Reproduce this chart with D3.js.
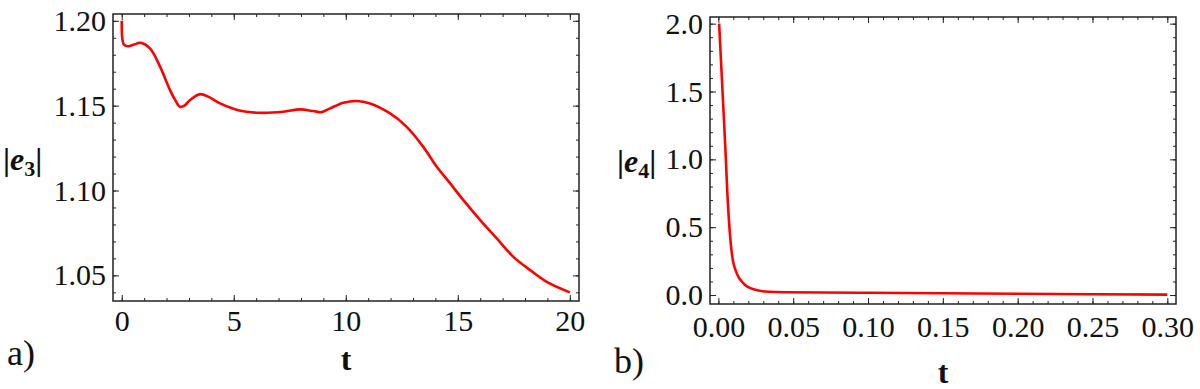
<!DOCTYPE html>
<html>
<head>
<meta charset="utf-8">
<script src="https://cdn.jsdelivr.net/npm/d3@7"></script>
</head>
<body style="margin:0">
<script>
// panel a) |e3| over t
const e3T = [0, 0.03, 0.1, 0.3, 0.55, 0.85, 1.26, 1.71, 2.16, 2.4, 2.6, 2.8, 3.05, 3.5, 3.9, 4.39, 5.2, 6.17,
  7.2, 7.96, 8.55, 8.93, 9.3, 9.9, 10.49, 11.08, 11.98, 12.72, 13.46, 14.06, 14.66, 15.25, 16.0, 16.74, 17.48,
  18.23, 18.97, 20];
const e3V = [1.200, 1.189, 1.186, 1.185, 1.186, 1.187, 1.1837, 1.173, 1.159, 1.153, 1.1493, 1.150, 1.1533,
  1.1568, 1.155, 1.1513, 1.1473, 1.1458, 1.1464, 1.1478, 1.1468, 1.1462, 1.1484, 1.1517, 1.1527, 1.1513,
  1.1454, 1.1375, 1.1257, 1.114, 1.1042, 1.0943, 1.0826, 1.0718, 1.0609, 1.0531, 1.0462, 1.040];
const e3XTicks = [0, 5, 10, 15, 20];
const e3YTicks = [1.05, 1.10, 1.15, 1.20];

// panel b) |e4| over t
const e4T = [0.0005, 0.003, 0.0048, 0.006, 0.0075, 0.0092, 0.0123, 0.0168, 0.0235, 0.0336, 0.045, 0.1,
  0.15, 0.2, 0.25, 0.3];
const e4V = [2.0, 1.45, 1.05, 0.75, 0.48, 0.29, 0.16, 0.086, 0.042, 0.024, 0.021, 0.017, 0.013, 0.009,
  0.006, 0.003];
const e4XTicks = [0, 0.05, 0.10, 0.15, 0.20, 0.25, 0.30];
const e4YTicks = [0, 0.5, 1.0, 1.5, 2.0];

const width = 1200, height = 389;
const FONT = "\"Liberation Serif\", cursive";

const svg = d3.select("body").append("svg")
  .attr("width", width)
  .attr("height", height);

function axisG(g, tr, axis) {
  return g.append("g")
    .attr("transform", tr)
    .call(axis)
    .call((a) => a.select(".domain").remove())
    .call((a) => a.selectAll(".tick line").attr("stroke", "#222"));
}

function drawPanel(p) {
  const x = d3.scaleLinear().domain(p.xDomain).range([p.left, p.right]);
  const y = d3.scaleLinear().domain(p.yDomain).range([p.bottom, p.top]);
  const g = svg.append("g");

  const minorX = d3.range(p.xMinor[0], p.xMinor[1] + 1e-9, p.xMinor[2]);
  const minorY = d3.range(p.yMinor[0], p.yMinor[1] + 1e-9, p.yMinor[2]);

  // minor ticks on all four sides, pointing inward
  axisG(g, `translate(0,${p.bottom})`, d3.axisBottom(x).tickValues(minorX).tickSize(-3).tickFormat(""));
  axisG(g, `translate(0,${p.top})`, d3.axisTop(x).tickValues(minorX).tickSize(-3).tickFormat(""));
  axisG(g, `translate(${p.left},0)`, d3.axisLeft(y).tickValues(minorY).tickSize(-3).tickFormat(""));
  axisG(g, `translate(${p.right},0)`, d3.axisRight(y).tickValues(minorY).tickSize(-3).tickFormat(""));

  // major ticks
  axisG(g, `translate(0,${p.bottom})`,
    d3.axisBottom(x).tickValues(p.xTicks).tickSize(-6).tickPadding(p.xPad).tickFormat(d3.format(p.xFmt)));
  axisG(g, `translate(0,${p.top})`, d3.axisTop(x).tickValues(p.xTicks).tickSize(-6).tickFormat(""));
  axisG(g, `translate(${p.left},0)`,
    d3.axisLeft(y).tickValues(p.yTicks).tickSize(-6).tickPadding(7).tickFormat(d3.format(p.yFmt)));
  axisG(g, `translate(${p.right},0)`, d3.axisRight(y).tickValues(p.yTicks).tickSize(-6).tickFormat(""));

  g.selectAll(".tick text")
    .attr("font-size", 30)
    .attr("fill", "#111");

  // frame
  g.append("rect")
    .attr("x", p.left).attr("y", p.top)
    .attr("width", p.right - p.left).attr("height", p.bottom - p.top)
    .attr("fill", "none").attr("stroke", "#222").attr("stroke-width", 1.5);

  // curve
  const pts = p.t.map((t, i) => [t, p.v[i]]);
  g.append("path")
    .datum(pts)
    .attr("fill", "none")
    .attr("stroke", "#f00")
    .attr("stroke-width", 2.6)
    .attr("stroke-linejoin", "round")
    .attr("d", d3.line().x((d) => x(d[0])).y((d) => y(d[1])).curve(p.curve));

  // y label |e_n|
  const yl = g.append("text")
    .attr("x", p.yLabelX).attr("y", p.yLabelY)
    .attr("font-size", 32).attr("font-weight", "bold").attr("fill", "#111");
  yl.append("tspan").text("|");
  yl.append("tspan").attr("font-style", "italic").text("e");
  yl.append("tspan").attr("font-size", 22).attr("dy", 6).text(p.sub);
  yl.append("tspan").attr("dy", -6).text("|");

  // x label
  g.append("text")
    .attr("x", (p.left + p.right) / 2).attr("y", p.xLabelY)
    .attr("text-anchor", "middle")
    .attr("font-size", 32).attr("font-weight", "bold").attr("fill", "#111")
    .text("t");

  // panel tag
  g.append("text")
    .attr("x", p.tagX).attr("y", p.tagY)
    .attr("font-size", 36).attr("fill", "#111")
    .text(p.tag);

  g.selectAll("g").attr("font-family", null);
  g.selectAll("text").style("font-family", FONT);
}

drawPanel({
  left: 113, right: 579, top: 14, bottom: 301,
  xDomain: [-0.39, 20.41], yDomain: [1.0349, 1.204],
  xTicks: e3XTicks, yTicks: e3YTicks,
  xMinor: [0, 20, 1], yMinor: [1.04, 1.20, 0.01],
  xFmt: "d", yFmt: ".2f", xPad: 9,
  t: e3T, v: e3V, curve: d3.curveCatmullRom.alpha(0.5),
  sub: "3", yLabelX: 3, yLabelY: 170,
  xLabelY: 370, tag: "a)", tagX: 7, tagY: 365
});

drawPanel({
  left: 710, right: 1176, top: 17, bottom: 304,
  xDomain: [-0.0056, 0.3058], yDomain: [-0.066, 2.049],
  xTicks: e4XTicks, yTicks: e4YTicks,
  xMinor: [0, 0.30, 0.01], yMinor: [0, 2.0, 0.1],
  xFmt: ".2f", yFmt: ".1f", xPad: 12,
  t: e4T, v: e4V, curve: d3.curveMonotoneX,
  sub: "4", yLabelX: 617, yLabelY: 172,
  xLabelY: 383, tag: "b)", tagX: 614, tagY: 373
});
</script>
</body>
</html>
